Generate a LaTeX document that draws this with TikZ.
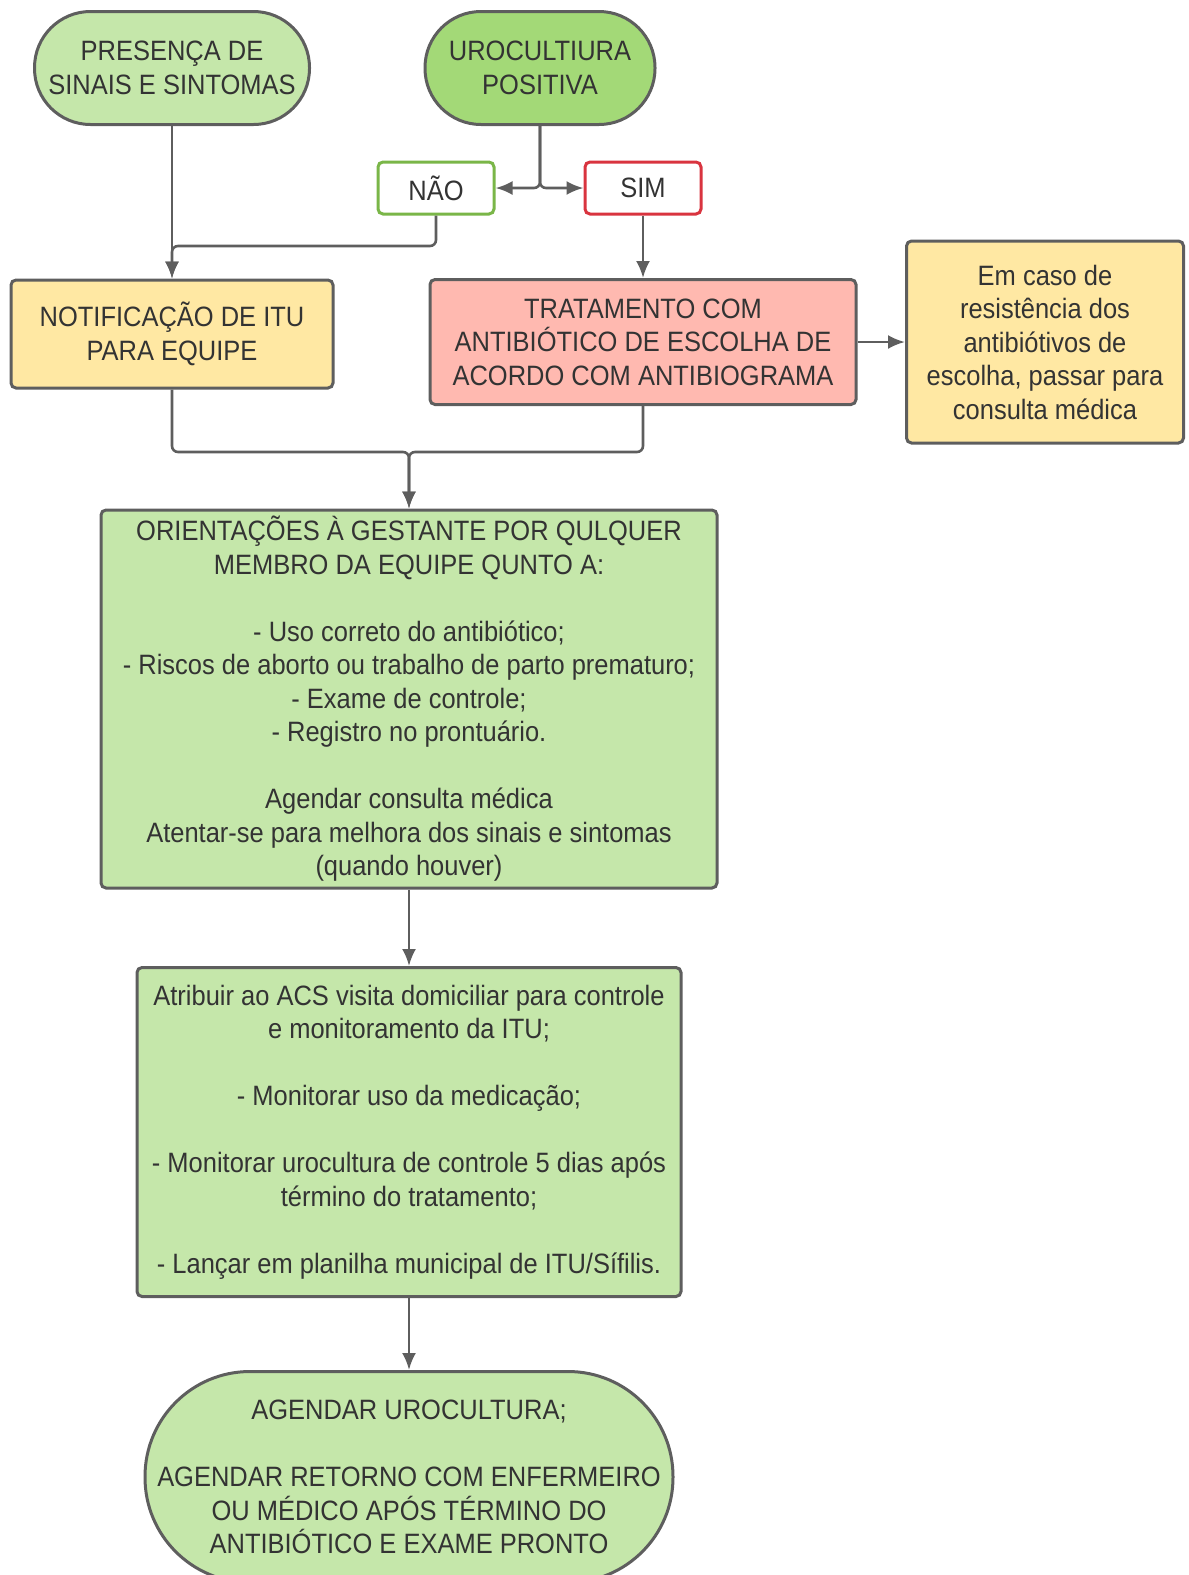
\documentclass[tikz,border=0pt]{standalone}
\usepackage{fontspec}
\setmainfont[FakeStretch=0.91]{Liberation Sans}
\usetikzlibrary{arrows.meta}
\definecolor{lgreen}{HTML}{C5E7AA}
\definecolor{dgreen}{HTML}{A3D977}
\definecolor{lyellow}{HTML}{FFE8A3}
\definecolor{lpink}{HTML}{FFB9B0}
\definecolor{edge}{HTML}{5E5E5E}
\definecolor{okgreen}{HTML}{7AB648}
\definecolor{nored}{HTML}{D9343F}
\definecolor{ink}{HTML}{333333}
\begin{document}
\begin{tikzpicture}[x=1pt, y=-1pt,
    every node/.style={text=ink, align=center, inner sep=0pt,
      font=\fontsize{28}{33.5}\selectfont},
    box/.style={draw=edge, line width=3, rounded corners=5},
    terminal/.style={draw=edge, line width=3, rounded corners=#1},
    answer/.style={line width=3, rounded corners=5, fill=white,
      minimum width=116, minimum height=52},
    link/.style={draw=edge, line width=2.6, rounded corners=6, ->,
      >={Latex[length=17pt,width=14pt]}}]
  \useasboundingbox (0,0) rectangle (1189,1575);
  \node[terminal=56, fill=lgreen, minimum width=275, minimum height=113] (signs) at (172,68) {PRESENÇA DE\\SINAIS E SINTOMAS};
  \node[terminal=56, fill=dgreen, minimum width=230, minimum height=113] (uro) at (540,68) {UROCULTIURA\\POSITIVA};
  \node[answer, draw=okgreen] (nao) at (436,188) {NÃO};
  \node[answer, draw=nored] (sim) at (643,188) {SIM};
  \node[box, fill=lyellow, minimum width=322, minimum height=108] (notif) at (172,334) {NOTIFICAÇÃO DE ITU\\PARA EQUIPE};
  \node[box, fill=lpink, minimum width=426, minimum height=125] (trat) at (643,342) {TRATAMENTO COM\\ANTIBIÓTICO DE ESCOLHA DE\\ACORDO COM ANTIBIOGRAMA};
  \node[box, fill=lyellow, minimum width=277, minimum height=202] (resist) at (1045,342) {Em caso de\\resistência dos\\antibiótivos de\\escolha, passar para\\consulta médica};
  \node[box, fill=lgreen, minimum width=616, minimum height=378] (orient) at (409,699) {ORIENTAÇÕES À GESTANTE POR QULQUER\\MEMBRO DA EQUIPE QUNTO A:\\[33.5pt]
    - Uso correto do antibiótico;\\- Riscos de aborto ou trabalho de parto prematuro;\\- Exame de controle;\\- Registro no prontuário.\\[33.5pt]
    Agendar consulta médica\\Atentar-se para melhora dos sinais e sintomas\\(quando houver)};
  \node[box, fill=lgreen, minimum width=544, minimum height=329] (acs) at (409,1132) {Atribuir ao ACS visita domiciliar para controle\\e monitoramento da ITU;\\[33.5pt]
    - Monitorar uso da medicação;\\[33.5pt]
    - Monitorar urocultura de controle 5 dias após\\término do tratamento;\\[33.5pt]
    - Lançar em planilha municipal de ITU/Sífilis.};
  \node[terminal=105, fill=lgreen, minimum width=528, minimum height=211] (agenda) at (409,1477) {AGENDAR UROCULTURA;\\[33.5pt]
    AGENDAR RETORNO COM ENFERMEIRO\\OU MÉDICO APÓS TÉRMINO DO\\ANTIBIÓTICO E EXAME PRONTO};
  \coordinate (split) at (540,188);
  \coordinate (bend) at (300,246);
  \coordinate (merge) at (409,452);
  \draw[link] (signs) -- (notif);
  \draw[link] (uro.south) -- (split) -- (nao.east);
  \draw[link] (uro.south) -- (split) -- (sim.west);
  \draw[link] (nao.south) |- (bend) -| (notif.north);
  \draw[link] (sim) -- (trat);
  \draw[link] (trat) -- (resist);
  \draw[link] (notif.south) |- (merge) -- (orient.north);
  \draw[link] (trat.south) |- (merge) -- (orient.north);
  \draw[link] (orient) -- (acs);
  \draw[link] (acs) -- (agenda);
\end{tikzpicture}
\end{document}
